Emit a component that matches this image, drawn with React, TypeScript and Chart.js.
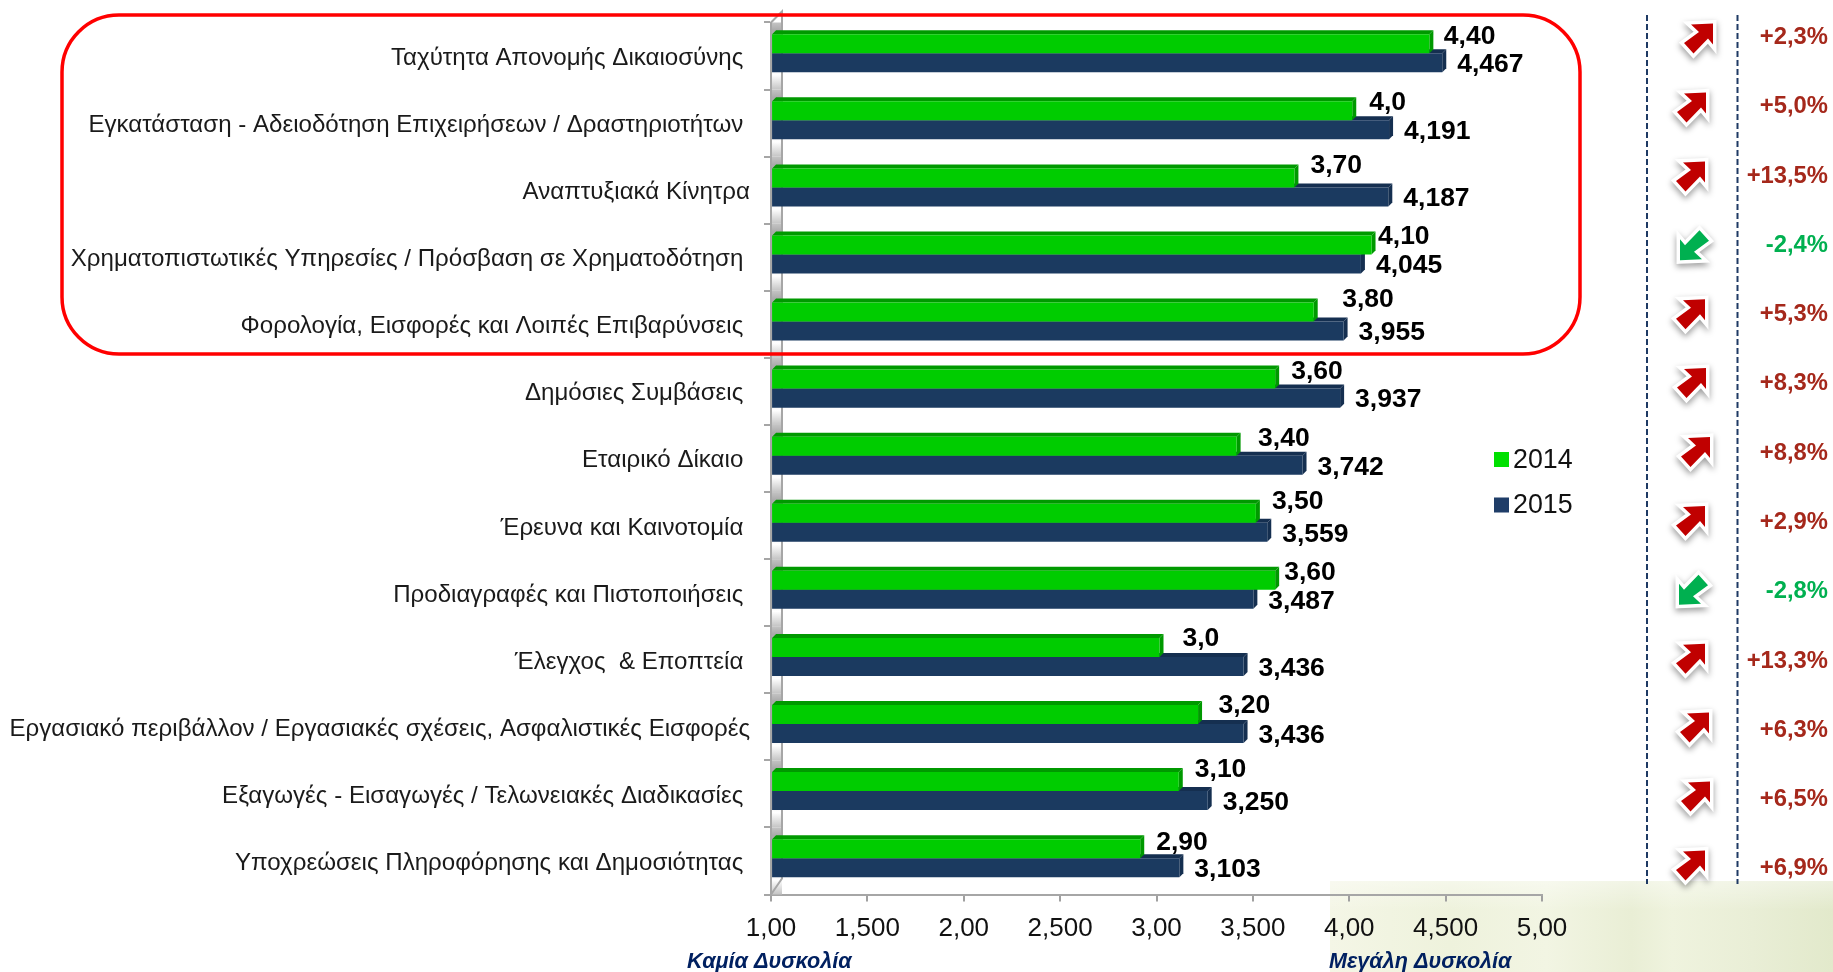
import React, { useEffect, useRef } from "react";
import { Chart, registerables } from "chart.js";

Chart.register(...registerables);

const categories = [
  "Ταχύτητα Απονομής Δικαιοσύνης",
  "Εγκατάσταση - Αδειοδότηση Επιχειρήσεων / Δραστηριοτήτων",
  "Αναπτυξιακά Κίνητρα",
  "Χρηματοπιστωτικές Υπηρεσίες / Πρόσβαση σε Χρηματοδότηση",
  "Φορολογία, Εισφορές και Λοιπές Επιβαρύνσεις",
  "Δημόσιες Συμβάσεις",
  "Εταιρικό Δίκαιο",
  "Έρευνα και Καινοτομία",
  "Προδιαγραφές και Πιστοποιήσεις",
  "Έλεγχος  & Εποπτεία",
  "Εργασιακό περιβάλλον / Εργασιακές σχέσεις, Ασφαλιστικές Εισφορές",
  "Εξαγωγές - Εισαγωγές / Τελωνειακές Διαδικασίες",
  "Υποχρεώσεις Πληροφόρησης και Δημοσιότητας",
];
const values2014 = [4.4, 4.0, 3.7, 4.1, 3.8, 3.6, 3.4, 3.5, 3.6, 3.0, 3.2, 3.1, 2.9];
const values2015 = [4.467, 4.191, 4.187, 4.045, 3.955, 3.937, 3.742, 3.559, 3.487, 3.436, 3.436, 3.25, 3.103];
const labels2014 = ["4,40", "4,0", "3,70", "4,10", "3,80", "3,60", "3,40", "3,50", "3,60", "3,0", "3,20", "3,10", "2,90"];
const labels2015 = ["4,467", "4,191", "4,187", "4,045", "3,955", "3,937", "3,742", "3,559", "3,487", "3,436", "3,436", "3,250", "3,103"];
const changes = ["+2,3%", "+5,0%", "+13,5%", "-2,4%", "+5,3%", "+8,3%", "+8,8%", "+2,9%", "-2,8%", "+13,3%", "+6,3%", "+6,5%", "+6,9%"];
const xTickLabels = ["1,00", "1,500", "2,00", "2,500", "3,00", "3,500", "4,00", "4,500", "5,00"];
const seriesNames = ["2014", "2015"];

// Hand placement of the annotations, as in the source slide
const flushLabelRows = [2, 10];
const label2014ShiftX = [10.5, 13, 12, 2.5, 24.5, 12, 17.5, 12, 5, 19, 16.5, 12, 12];
const label2014ShiftY = [-7, -8, -12, -8, -12, -7, -8, -12, -8, -9, -9, -12, -6];
const arrowX = [1698, 1691, 1690, 1695, 1690, 1691, 1695, 1690, 1694, 1690, 1694, 1695, 1690];

const FONT = '"Liberation Sans", Arial, sans-serif';
const GREEN = "#00cc00";
const NAVY = "#1b3a60";
const BAR_DX = 3;
const BAR_DY = -2.8;
const DEPTH = 4;

function face(ctx: any, pts: number[][], color: string) {
  ctx.fillStyle = color;
  ctx.beginPath();
  pts.forEach((p, i) => (i ? ctx.lineTo(p[0], p[1]) : ctx.moveTo(p[0], p[1])));
  ctx.closePath();
  ctx.fill();
}

function barFaces(chart: any, index: number, top: string, side: string) {
  const ctx = chart.ctx;
  chart.getDatasetMeta(index).data.forEach((el: any) => {
    const t = el.y - el.height / 2;
    const b = el.y + el.height / 2;
    const l = el.base;
    const r = el.x;
    face(ctx, [[l, t], [l + DEPTH, t - DEPTH], [r + DEPTH, t - DEPTH], [r, t]], top);
    face(ctx, [[r, t], [r + DEPTH, t - DEPTH], [r + DEPTH, b - DEPTH], [r, b]], side);
  });
}

const clearPadding = (s: any) => {
  s.paddingTop = 0;
  s.paddingBottom = 0;
  s.paddingLeft = 0;
  s.paddingRight = 0;
};

const slidePlugin = {
  id: "slide",
  beforeDraw(chart: any) {
    const ctx = chart.ctx;
    const g = ctx.createLinearGradient(1330, 0, 1833, 0);
    g.addColorStop(0, "#f4f6e6");
    g.addColorStop(0.24, "#eef2dc");
    g.addColorStop(0.43, "#f2f5e3");
    g.addColorStop(0.6, "#e9eed5");
    g.addColorStop(0.68, "#eff3de");
    g.addColorStop(0.84, "#e9eed6");
    g.addColorStop(1, "#e2e9cb");
    ctx.fillStyle = g;
    ctx.fillRect(1330, 881, 503, 91);
    const fade = ctx.createLinearGradient(0, 881, 0, 910);
    fade.addColorStop(0, "rgba(255,255,255,0.4)");
    fade.addColorStop(1, "rgba(255,255,255,0)");
    ctx.fillStyle = fade;
    ctx.fillRect(1330, 881, 503, 29);

    // the category captions sit slightly below the band centres
    chart.scales.y.getLabelItems().forEach((item: any) => {
      item.options.translation[1] += 2.3;
    });
  },
  beforeDatasetsDraw(chart: any) {
    const ctx = chart.ctx;
    const y = chart.scales.y;
    const band = y.height / categories.length;
    // gray back wall, one fading step for each category
    const wallL = y.right + 1;
    const wallR = y.right + 11;
    categories.forEach((_: string, i: number) => {
      const t = y.top + band * i;
      const g = ctx.createLinearGradient(0, t, 0, t + band);
      g.addColorStop(0, "#c4c4c4");
      g.addColorStop(0.12, "#aaaaaa");
      g.addColorStop(0.78, "#ffffff");
      g.addColorStop(1, "#c4c4c4");
      ctx.fillStyle = g;
      ctx.fillRect(wallL, t, wallR - wallL, band);
    });
    ctx.strokeStyle = "#a6a6a6";
    ctx.lineWidth = 2;
    ctx.beginPath();
    ctx.moveTo(y.right, y.top);
    ctx.lineTo(wallR, y.top - 11);
    ctx.lineTo(wallR, y.bottom - 16);
    ctx.lineTo(y.right, y.bottom);
    ctx.stroke();

    ctx.save();
    ctx.translate(BAR_DX, BAR_DY);
    barFaces(chart, 1, "#152f50", "#152f50");
    barFaces(chart, 0, "#009900", "#009900");
  },
  afterDatasetsDraw(chart: any) {
    chart.ctx.restore();
  },
  afterDraw(chart: any) {
    const ctx = chart.ctx;
    ctx.save();

    // value labels
    ctx.fillStyle = "#000";
    ctx.font = `bold 26.5px ${FONT}`;
    ctx.textAlign = "left";
    ctx.textBaseline = "middle";
    chart.getDatasetMeta(0).data.forEach((el: any, i: number) => {
      ctx.fillText(labels2014[i], el.x + BAR_DX + DEPTH + label2014ShiftX[i], el.y + BAR_DY + label2014ShiftY[i]);
    });
    chart.getDatasetMeta(1).data.forEach((el: any, i: number) => {
      ctx.fillText(labels2015[i], el.x + 18, el.y + BAR_DY + 2);
    });

    // rounded highlight frame
    ctx.strokeStyle = "#ff0000";
    ctx.lineWidth = 3.5;
    ctx.beginPath();
    ctx.roundRect(62, 15, 1518, 339, 57);
    ctx.stroke();

    // legend
    ctx.font = `26.8px ${FONT}`;
    seriesNames.forEach((name, i) => {
      const cy = 459.5 + 45.5 * i;
      ctx.fillStyle = i === 0 ? "#00e000" : "#1f3d68";
      ctx.fillRect(1494, cy - 7.5, 15, 15);
      ctx.fillStyle = "#111";
      ctx.fillText(name, 1513, cy + 1);
    });

    // dashed column rules
    ctx.strokeStyle = "#1f3a64";
    ctx.lineWidth = 2;
    ctx.setLineDash([6, 3]);
    [1647, 1737.5].forEach((x) => {
      ctx.beginPath();
      ctx.moveTo(x, 15);
      ctx.lineTo(x, 884);
      ctx.stroke();
    });
    ctx.setLineDash([]);

    // change arrows and percentages
    const shape = [[15, -15], [-7, -14], [1, -6.5], [-14, 4.5], [-4.5, 15], [10, 0], [15, 6]];
    changes.forEach((c, i) => {
      const up = c.startsWith("+");
      const s = up ? 1 : -1;
      const cx = arrowX[i];
      const cy = 38.6 + 68.9 * i;
      const path = () => {
        ctx.beginPath();
        shape.forEach((p, k) => {
          const px = cx + s * p[0];
          const py = cy + s * p[1];
          if (k) ctx.lineTo(px, py);
          else ctx.moveTo(px, py);
        });
        ctx.closePath();
      };
      ctx.save();
      ctx.shadowColor = "rgba(0,0,0,0.4)";
      ctx.shadowBlur = 6;
      ctx.shadowOffsetY = 3;
      ctx.strokeStyle = "#fff";
      ctx.lineWidth = 7;
      ctx.lineJoin = "miter";
      path();
      ctx.stroke();
      ctx.restore();
      ctx.fillStyle = up ? "#c00000" : "#00b050";
      path();
      ctx.fill();

      ctx.fillStyle = up ? "#a5281b" : "#00b050";
      ctx.font = `bold 23.8px ${FONT}`;
      ctx.textAlign = "right";
      ctx.fillText(c, 1828, 37.5 + 69.27 * i);
    });

    // axis end captions
    ctx.fillStyle = "#002060";
    ctx.font = `italic bold 21.6px ${FONT}`;
    ctx.textAlign = "left";
    ctx.fillText("Καμία Δυσκολία", 687, 962);
    ctx.fillText("Μεγάλη Δυσκολία", 1329, 962);
    ctx.restore();
  },
};

export default function App() {
  const ref = useRef<HTMLCanvasElement>(null);
  useEffect(() => {
    const chart = new Chart(ref.current!, {
      type: "bar",
      data: {
        labels: categories,
        datasets: [
          { label: seriesNames[0], data: values2014, backgroundColor: GREEN, clip: false, base: 0.99 } as any,
          { label: seriesNames[1], data: values2015, backgroundColor: NAVY, clip: false, base: 0.99 } as any,
        ],
      },
      options: {
        indexAxis: "y",
        animation: false,
        responsive: false,
        devicePixelRatio: 1,
        layout: { padding: { top: 22.5, right: 291, left: 0, bottom: 0 } },
        datasets: { bar: { categoryPercentage: 0.567, barPercentage: 1 } },
        plugins: { legend: { display: false }, tooltip: { enabled: false }, title: { display: false } },
        scales: {
          x: {
            type: "linear",
            min: 1,
            max: 5,
            afterFit: (s: any) => {
              s.height = 77.5;
              clearPadding(s);
            },
            afterBuildTicks: (s: any) => {
              s.ticks = xTickLabels.map((_, i) => ({ value: 1 + i * 0.5 }));
            },
            grid: { drawOnChartArea: false, drawTicks: true, tickLength: 7, tickColor: "#a0a0a0", lineWidth: 2 },
            border: { color: "#a6a6a6", width: 2 },
            ticks: {
              autoSkip: false,
              maxRotation: 0,
              padding: 12,
              color: "#111",
              font: { family: FONT, size: 26 },
              callback: (_v: any, i: number) => xTickLabels[i],
            },
          },
          y: {
            type: "category",
            afterFit: (s: any) => {
              s.width = 771;
              clearPadding(s);
            },
            grid: { drawOnChartArea: false, drawTicks: true, tickLength: 7, tickColor: "#a6a6a6", lineWidth: 2 },
            border: { color: "#a6a6a6", width: 2 },
            ticks: {
              autoSkip: false,
              padding: 14,
              color: "#1a1a1a",
              font: { family: FONT, size: 24.1 },
              callback: (_v: any, i: number) => categories[i] + (flushLabelRows.includes(i) ? "" : " "),
            },
          },
        },
      },
      plugins: [slidePlugin],
    } as any);
    return () => chart.destroy();
  }, []);
  return (
    <div style={{ position: "fixed", left: 0, top: 0, width: 1833, height: 972, background: "#fff" }}>
      <canvas ref={ref} width={1833} height={972} style={{ display: "block" }} />
    </div>
  );
}
